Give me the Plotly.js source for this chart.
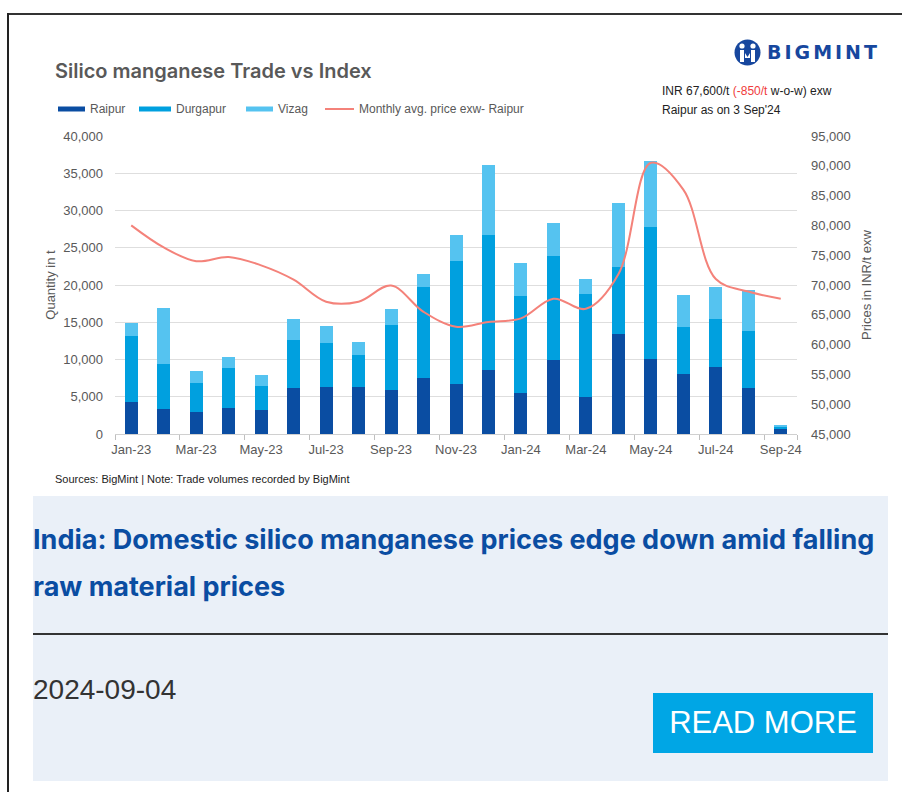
<!DOCTYPE html>
<html><head><meta charset="utf-8">
<script src="https://cdn.plot.ly/plotly-3.0.1.min.js"></script>
<style>
body{margin:0;background:#fff;}
#wrap{position:relative;width:902px;height:792px;overflow:hidden;font-family:"Liberation Sans",Arial,sans-serif;background:#fff;}
#chart{position:absolute;left:0;top:0;width:902px;height:500px;}
.bt{position:absolute;left:7px;top:13px;width:895px;height:2px;background:#333;}
.bl{position:absolute;left:7px;top:13px;width:2px;height:779px;background:#222;}
#logo{position:absolute;left:734px;top:38px;height:28px;display:flex;align-items:center;}
#logo span{font-family:"DejaVu Sans",sans-serif;font-weight:bold;font-size:19px;letter-spacing:3px;color:#17479E;margin-left:6px;}
#card{position:absolute;left:33px;top:496px;width:855px;height:285px;background:#EAF0F8;}
#head{position:absolute;left:33px;top:516px;width:855px;font-family:Inter,sans-serif;font-weight:bold;font-size:27px;line-height:47px;color:#0A4DA2;}
#div{position:absolute;left:33px;top:633px;width:855px;height:2px;background:#333;}
#date{position:absolute;left:33px;top:674px;font-size:28px;line-height:32px;color:#333;}
#btn{position:absolute;left:653px;top:693px;width:220px;height:60px;background:#00A6E5;color:#fff;font-size:31px;line-height:60px;text-align:center;}
</style></head>
<body>
<div id="wrap">
<div id="chart"></div>
<div class="bt"></div><div class="bl"></div>
<div id="logo"><svg width="27" height="27" viewBox="0 0 27 27"><circle cx="13.5" cy="13.5" r="13" fill="#17479E"/><circle cx="8" cy="7" r="2.6" fill="#fff"/><circle cx="19" cy="7" r="2.6" fill="#fff"/><path d="M6 11h4v12h-4zM17 11h4v12h-4zM11 14l2.5 4l2.5-4v5h-5z" fill="#fff"/></svg><span>BIGMINT</span></div>
<div id="card"></div>
<div id="head">India: Domestic silico manganese prices edge down amid falling raw material prices</div>
<div id="div"></div>
<div id="date">2024-09-04</div>
<div id="btn">READ MORE</div>
</div>
<script>
const months = ["Jan-23","Feb-23","Mar-23","Apr-23","May-23","Jun-23","Jul-23","Aug-23","Sep-23","Oct-23","Nov-23","Dec-23","Jan-24","Feb-24","Mar-24","Apr-24","May-24","Jun-24","Jul-24","Aug-24","Sep-24"];
const raipur   = [4250,3300,3000,3500,3180,6130,6260,6260,5950,7520,6710,8590,5460,9980,5010,13380,10110,8100,9040,6130,720];
const durgapur = [8950,6050,3890,5400,3220,6490,5910,4340,8680,12260,16550,18080,13020,13910,13780,9030,17670,6220,6350,7740,260];
const vizag    = [1740,7560,1570,1390,1560,2770,2280,1700,2150,1650,3410,9480,4520,4480,1970,8640,8820,4340,4340,5410,230];
const priceRaipur = [80000,76300,74000,74700,73300,70900,67200,67200,69900,65500,63000,63800,64400,67700,66000,71800,90500,86000,71000,68900,67700];
const seriesNames = ["Raipur","Durgapur","Vizag","Monthly avg. price exw- Raipur"];
const colors = ["#0A4DA2","#00A0DF","#55C3F0","#F4827A"];
const tickLabels = months.filter((m,i)=>i%2===0);

const L=115,R=797,T=136,B=434;
const px = x => (x-L)/(R-L);
const py = y => (B-y)/(B-T);

const traces = [
  {type:"bar",x:months,y:raipur,name:seriesNames[0],marker:{color:colors[0]},showlegend:false},
  {type:"bar",x:months,y:durgapur,name:seriesNames[1],marker:{color:colors[1]},showlegend:false},
  {type:"bar",x:months,y:vizag,name:seriesNames[2],marker:{color:colors[2]},showlegend:false},
  {type:"scatter",mode:"lines",x:months,y:priceRaipur,yaxis:"y2",name:seriesNames[3],line:{color:colors[3],width:2,shape:"spline",smoothing:1},showlegend:false}
];

const legX = [[58,85,88],[139,171,174],[246,273,276],[325,354,357]];
const shapes=[], annotations=[];
legX.forEach((p,i)=>{
  if(i<3){
    shapes.push({type:"rect",xref:"paper",yref:"paper",x0:px(p[0]),x1:px(p[1]),y0:py(111.5),y1:py(106.5),fillcolor:colors[i],line:{width:0}});
  } else {
    shapes.push({type:"line",xref:"paper",yref:"paper",x0:px(p[0]),x1:px(p[1]),y0:py(109),y1:py(109),line:{color:colors[i],width:2}});
  }
  annotations.push({xref:"paper",yref:"paper",x:px(p[2]),y:py(109),xanchor:"left",yanchor:"middle",showarrow:false,text:seriesNames[i],font:{size:12,color:"#595959"}});
});
annotations.push({xref:"paper",yref:"paper",x:px(660),y:py(91),xanchor:"left",yanchor:"middle",showarrow:false,
  text:"INR 67,600/t <span style='color:#F03C3C'>(-850/t</span> w-o-w) exw",font:{size:12,color:"#222"}});
annotations.push({xref:"paper",yref:"paper",x:px(660),y:py(110),xanchor:"left",yanchor:"middle",showarrow:false,
  text:"Raipur as on 3 Sep'24",font:{size:12,color:"#222"}});
annotations.push({xref:"paper",yref:"paper",x:px(53),y:py(479),xanchor:"left",yanchor:"middle",showarrow:false,
  text:"Sources: BigMint | Note: Trade volumes recorded by BigMint",font:{size:11,color:"#222"}});

const layout = {
  width:902,height:500,
  margin:{l:115,r:105,t:136,b:66},
  paper_bgcolor:"rgba(0,0,0,0)",plot_bgcolor:"rgba(0,0,0,0)",
  font:{family:"Liberation Sans, Arial, sans-serif",color:"#595959",size:13},
  title:{text:"Silico manganese Trade vs Index",xref:"container",yref:"container",x:55/902,xanchor:"left",y:1-71/500,yanchor:"middle",font:{family:"Inter, sans-serif",size:20,color:"#595959",weight:600}},
  barmode:"stack",bargap:0.6,
  xaxis:{type:"category",categoryorder:"array",categoryarray:months,range:[-0.5,20.5],tickmode:"array",tickvals:tickLabels,ticktext:tickLabels,tickangle:0,
    tickson:"boundaries",ticks:"outside",ticklen:5,tickcolor:"#bfbfbf",showgrid:false,showline:true,linecolor:"#d0d0d0",linewidth:1,
    ticklabelstandoff:3,tickfont:{size:13,color:"#595959"},fixedrange:true},
  yaxis:{range:[0,40000],dtick:5000,tickformat:",d",gridcolor:"#dedede",gridwidth:1,zeroline:false,showline:false,ticks:"",
    ticklabelstandoff:11,tickfont:{size:13,color:"#595959"},
    title:{text:"Quantity in t",standoff:4,font:{size:13,color:"#595959"}}},
  yaxis2:{overlaying:"y",side:"right",range:[45000,95000],dtick:5000,tickformat:",d",showgrid:false,zeroline:false,showline:false,ticks:"",
    ticklabelstandoff:13,tickfont:{size:13,color:"#595959"},
    title:{text:"Prices in INR/t exw",standoff:12,font:{size:13,color:"#595959"}}},
  shapes:shapes,annotations:annotations,showlegend:false
};
Plotly.newPlot("chart",traces,layout,{displayModeBar:false,staticPlot:true});
</script>
</body></html>
